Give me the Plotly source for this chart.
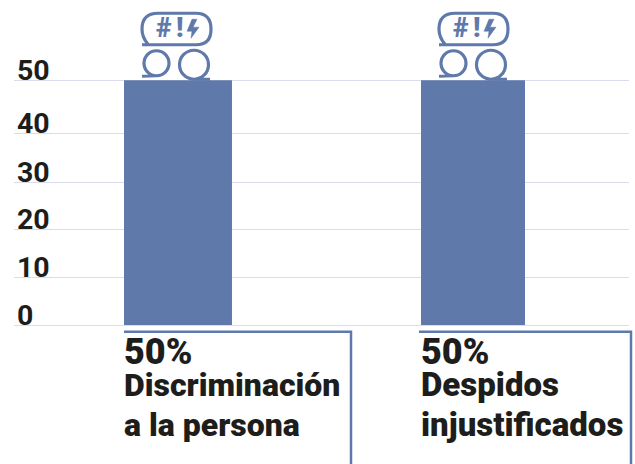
import plotly.graph_objects as go

categories = ["Discriminación a la persona", "Despidos injustificados"]
values = [50, 50]
bar_positions = [0, 1]
bar_widths = [0.366, 0.3525]
tick_values = [0, 9.8, 19.6, 29.2, 39.2, 50]
tick_labels = ["0", "10", "20", "30", "40", "50"]
label_lines = [["50%", "Discriminación", "a la persona"], ["50%", "Despidos", "injustificados"]]

BLUE = "#5f79ab"
INK = "#1d1d1b"
GRID = "#d8dcec"
FONT = "Roboto"
W, H = 635, 464
L, R, T, B = 14, 629, 0, 325.3


def px(v):
    return (v - L) / (R - L)


def py(v):
    return (B - v) / (B - T)


fig = go.Figure(go.Bar(x=bar_positions, y=values, width=bar_widths, marker=dict(color=BLUE, line_width=0),
                       hovertext=categories))

shapes = []
annotations = []
for v, t in zip(tick_values, tick_labels):
    annotations.append(dict(x=0, xref="paper", y=v, yref="y", text=t, showarrow=False,
                            xanchor="left", yanchor="bottom", xshift=1, yshift=-9,
                            font=dict(family=FONT, size=28.5, color=INK, weight=700)))

line_y = [365, 397.5, 437]
line_sizes = [[36, 32, 32], [36, 33, 33]]
for lines, left, sizes in zip(label_lines, [124, 421], line_sizes):
    for txt, by, size in zip(lines, line_y, sizes):
        annotations.append(dict(x=px(left), xref="paper", y=py(by), yref="paper", text=txt,
                                showarrow=False, xanchor="left", yanchor="bottom", xshift=-2,
                                yshift=-9 - (size - 32) * 0.28,
                                font=dict(family=FONT, size=size, color=INK, weight=900)))

for x0, x1 in [(124, 351), (419, 631)]:
    shapes.append(dict(type="path", xref="paper", yref="paper",
                       path=f"M {px(x0)} {py(332)} L {px(x1)} {py(332)} L {px(x1)} {py(470)}",
                       line=dict(color=BLUE, width=2.5)))


def circle(cx, cy, r):
    k = 0.5523 * r
    return (f"M {cx - r} {cy} C {cx - r} {cy - k} {cx - k} {cy - r} {cx} {cy - r} "
            f"C {cx + k} {cy - r} {cx + r} {cy - k} {cx + r} {cy} "
            f"C {cx + r} {cy + k} {cx + k} {cy + r} {cx} {cy + r} "
            f"C {cx - k} {cy + r} {cx - r} {cy + k} {cx - r} {cy} ")


def icon(anchor, d):
    c = dict(xref="x", yref="y", xsizemode="pixel", ysizemode="pixel", xanchor=anchor, yanchor=50,
             layer="above")
    line = dict(line=dict(color=BLUE, width=3.2), **c)
    big = (f"M {-36 + d} 35.5 L {18 + d} 35.5 Q {33 + d} 35.5 {33 + d} 51 Q {33 + d} 67 {18 + d} 67 "
           f"L {-20 + d} 67 Q {-36 + d} 67 {-36 + d} 51 Q {-36 + d} 43 {-30 + d} 36")
    shapes.append(dict(type="path", path=big, **line))
    cx, cy, r = -21.5 + d, 17, 12.5
    shapes.append(dict(type="path", path=f"M {-36 + d} 4 L {cx} 4.5 " + circle(cx, cy, r), **line))
    cx, cy, r = 16 + d, 15.5, 14.5
    shapes.append(dict(type="path", path=f"M {32 + d} 1 L {cx} 1 " + circle(cx, cy, r), **line))
    bolt = (f"M {14 + d} 61 L {19 + d} 61 L {15 + d} 53 L {21 + d} 53 L {13 + d} 42 "
            f"L {14 + d} 49 L {9 + d} 49 Z")
    shapes.append(dict(type="path", path=bolt, fillcolor=BLUE, line=dict(color=BLUE, width=0.5), **c))
    for glyph, s in (("#", -14 + d), ("!", 1.5 + d)):
        annotations.append(dict(x=anchor, xref="x", y=50, yref="y", text=glyph, showarrow=False,
                                xshift=s, yshift=52, font=dict(family=FONT, size=27, color=BLUE, weight=900)))


icon(0, 0)
icon(1, 2)

fig.update_layout(
    width=W, height=H, autosize=False, showlegend=False,
    margin=dict(l=L, r=W - R, t=T, b=H - B, pad=0),
    paper_bgcolor="white", plot_bgcolor="white",
    shapes=shapes, annotations=annotations,
    xaxis=dict(range=[(L - 178) / 295, (R - 178) / 295], visible=False, fixedrange=True),
    yaxis=dict(range=[0, (B - T) / 4.9], tickvals=tick_values, showticklabels=False, showgrid=True,
               gridcolor=GRID, gridwidth=1, zeroline=True, zerolinecolor=GRID, zerolinewidth=1,
               showline=False, ticks="", fixedrange=True),
)
fig.write_html("out.html", config={"displayModeBar": False},
               post_script="document.documentElement.style.margin='0';document.body.style.margin='0';")
